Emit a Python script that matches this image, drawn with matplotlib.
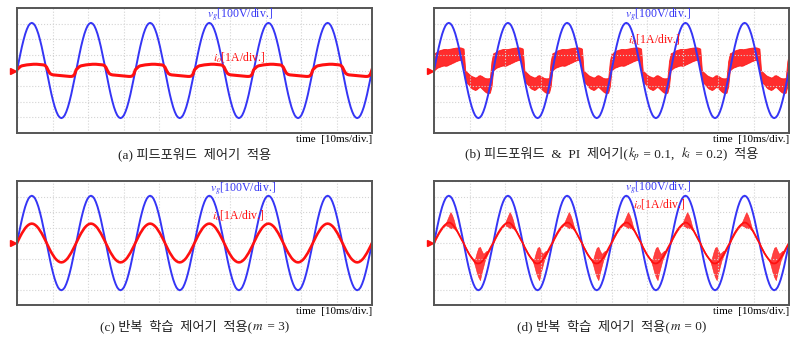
import numpy as np
import matplotlib
matplotlib.use("Agg")
import matplotlib.pyplot as plt
from matplotlib.transforms import blended_transform_factory
from matplotlib.offsetbox import TextArea, HPacker, AnchoredOffsetbox

plt.rcParams['mathtext.fontset'] = 'stix'
FONTS = ['Liberation Serif', 'Noto Sans CJK KR']

# scope settings: 10 ms/div, 10 div wide, 8 div tall, 60 Hz grid -> 6 cycles
n_cycles = 6
phase_deg = list(range(0, 360, 10))  # one sample every 10 deg

# grid voltage (div), one cycle
vg_cycle = [0.0, 0.53, 1.04, 1.53, 1.96, 2.34, 2.64, 2.87, 3.0, 3.05, 3.0, 2.87,
            2.64, 2.34, 1.96, 1.53, 1.04, 0.53, 0.0, -0.53, -1.04, -1.53, -1.96, -2.34,
            -2.64, -2.87, -3.0, -3.05, -3.0, -2.87, -2.64, -2.34, -1.96, -1.53, -1.04, -0.53]

# (a) feed-forward only
io_a = [0.05, 0.15, 0.25, 0.3, 0.32, 0.34, 0.36, 0.37, 0.38, 0.39, 0.4, 0.4,
        0.4, 0.39, 0.38, 0.37, 0.36, 0.33, 0.22, 0.0, -0.18, -0.25, -0.28, -0.29,
        -0.3, -0.31, -0.32, -0.33, -0.34, -0.35, -0.36, -0.37, -0.38, -0.38, -0.36, -0.25]

# (b) feed-forward + PI : ripple band
io_b_hi = [1.1, 1.15, 1.22, 1.28, 1.32, 1.35, 1.38, 1.38, 1.36, 1.38, 1.4, 1.42,
           1.44, 1.46, 1.47, 1.48, 1.48, 1.45, 1.4, 0.0, -0.1, -0.2, -0.3, -0.36,
           -0.4, -0.45, -0.42, -0.32, -0.3, -0.35, -0.42, -0.48, -0.5, -0.5, -0.48, 0.6]
io_b_lo = [0.0, 0.1, 0.18, 0.22, 0.26, 0.3, 0.32, 0.3, 0.32, 0.38, 0.42, 0.48,
           0.52, 0.58, 0.62, 0.66, 0.68, 0.6, 0.0, -0.7, -0.8, -0.9, -1.05, -1.15,
           -1.2, -1.25, -1.2, -1.1, -1.05, -1.15, -1.25, -1.35, -1.42, -1.45, -1.42, -1.0]

# (c) repetitive learning, m = 3
io_c = [0.0, 0.22, 0.43, 0.63, 0.8, 0.96, 1.08, 1.17, 1.23, 1.25, 1.23, 1.17,
        1.08, 0.96, 0.8, 0.63, 0.43, 0.22, 0.0, -0.22, -0.43, -0.63, -0.8, -0.96,
        -1.08, -1.17, -1.23, -1.25, -1.23, -1.17, -1.08, -0.96, -0.8, -0.63, -0.43, -0.22]

# (d) repetitive learning, m = 0 : base current + burst envelope
io_d = [0.0, 0.25, 0.45, 0.65, 0.82, 0.97, 1.1, 1.2, 1.28, 1.32, 1.3, 1.22,
        1.1, 0.95, 0.78, 0.58, 0.38, 0.18, 0.0, -0.25, -0.45, -0.65, -0.82, -0.97,
        -1.1, -1.25, -1.31, -1.32, -1.3, -1.22, -1.1, -0.95, -0.78, -0.58, -0.38, -0.18]
io_d_hi = [0.05, 0.3, 0.5, 0.7, 0.87, 1.02, 1.15, 1.25, 1.5, 1.75, 2.0, 1.8,
           1.5, 1.1, 0.83, 0.63, 0.43, 0.23, 0.05, -0.2, -0.4, -0.6, -0.77, -0.92,
           -1.05, -1.0, -0.6, -0.3, -0.25, -0.5, -0.7, -0.6, -0.5, -0.53, -0.33, -0.13]
io_d_lo = [-0.05, 0.2, 0.4, 0.6, 0.77, 0.92, 1.05, 1.15, 1.1, 1.05, 0.95, 0.95,
           0.95, 0.85, 0.73, 0.53, 0.33, 0.13, -0.05, -0.3, -0.5, -0.7, -0.87, -1.02,
           -1.15, -1.5, -1.9, -2.2, -2.4, -1.9, -1.5, -1.1, -0.85, -0.63, -0.43, -0.23]

# captions: pieces of plain text and math
captions = [
    ["(a) 피드포워드  제어기  적용"],
    ["(b) 피드포워드  &  PI  제어기(", "$k_p$", " = 0.1,  ", "$k_i$", " = 0.2)  적용"],
    ["(c) 반복  학습  제어기  적용(", "$m$", " = 3)"],
    ["(d) 반복  학습  제어기  적용(", "$m$", " = 0)"],
]
vg_label = "$v_g$[100V/div.]"
io_label = "$i_o$[1A/div.]"
time_label = "time  [10ms/div.]"


def run(cycle):
    a = np.asarray(cycle, dtype=float)
    return np.concatenate([np.tile(a, n_cycles), a[:1]])


t = np.arange(n_cycles * len(phase_deg) + 1) * (1000.0 / 60 / len(phase_deg))

BLUE = '#3535f5'
RED = '#ff1010'

fig = plt.figure(figsize=(8.07, 3.42), dpi=100)
boxes = [(17, 8, 372, 133), (434, 8, 789, 133), (17, 181, 372, 305), (434, 181, 789, 305)]
W, H = 807.0, 342.0
vg_pos = [(0.535, 0.944), (0.538, 0.944), (0.544, 0.935), (0.538, 0.94)]
io_pos = [(0.552, 0.608), (0.546, 0.748), (0.549, 0.726), (0.561, 0.815)]

axes = []
for (x0, y0, x1, y1) in boxes:
    ax = fig.add_axes([x0 / W, 1 - y1 / H, (x1 - x0) / W, (y1 - y0) / H])
    ax.set_xlim(0, 100)
    ax.set_ylim(-4, 4)
    ax.set_xticks(np.arange(0, 101, 10))
    ax.set_yticks(np.arange(-4, 5, 1))
    ax.grid(True, color='#d4d4d4', linestyle=':', linewidth=0.8)
    ax.tick_params(length=0, labelbottom=False, labelleft=False)
    for s in ax.spines.values():
        s.set_color('#555555')
        s.set_linewidth(1.4)
    axes.append(ax)

# (a)
axes[0].plot(t, run(vg_cycle), color=BLUE, lw=1.4)
axes[0].plot(t, run(io_a), color=RED, lw=2.2)
# (b)
axes[1].plot(t, run(vg_cycle), color=BLUE, lw=1.4)
axes[1].fill_between(t, run(io_b_lo), run(io_b_hi), color=RED, lw=0.6, alpha=0.88)
# (c)
axes[2].plot(t, run(vg_cycle), color=BLUE, lw=1.4)
axes[2].plot(t, run(io_c), color=RED, lw=1.9)
# (d)
axes[3].plot(t, run(vg_cycle), color=BLUE, lw=1.4)
axes[3].fill_between(t, run(io_d_lo), run(io_d_hi), color=RED, lw=0.4, alpha=0.8)
axes[3].plot(t, run(io_d), color=RED, lw=1.3)

for i, ax in enumerate(axes):
    ax.text(vg_pos[i][0], vg_pos[i][1], vg_label, transform=ax.transAxes, color=BLUE,
            fontsize=8.5, family=FONTS, va='center', ha='left')
    ax.text(io_pos[i][0], io_pos[i][1], io_label, transform=ax.transAxes, color=RED,
            fontsize=8.5, family=FONTS, va='center', ha='left')
    tr = blended_transform_factory(ax.transAxes, ax.transData)
    ax.plot([-0.012], [0], marker='>', color=RED, markersize=5, transform=tr, clip_on=False)
    ax.text(1.0, -0.02, time_label, transform=ax.transAxes, fontsize=8, family=FONTS,
            ha='right', va='top')
    pieces = []
    for p in captions[i]:
        props = dict(fontsize=9.5, color='#222222')
        if not p.startswith('$'):
            props['family'] = FONTS
        pieces.append(TextArea(p, textprops=props))
    pack = HPacker(children=pieces, sep=0, pad=0, align='baseline')
    box = AnchoredOffsetbox(loc='center', child=pack, bbox_to_anchor=(0.5, -0.17),
                            bbox_transform=ax.transAxes, frameon=False, pad=0, borderpad=0)
    ax.add_artist(box)

fig.savefig("out.png", dpi=100, facecolor='white')
